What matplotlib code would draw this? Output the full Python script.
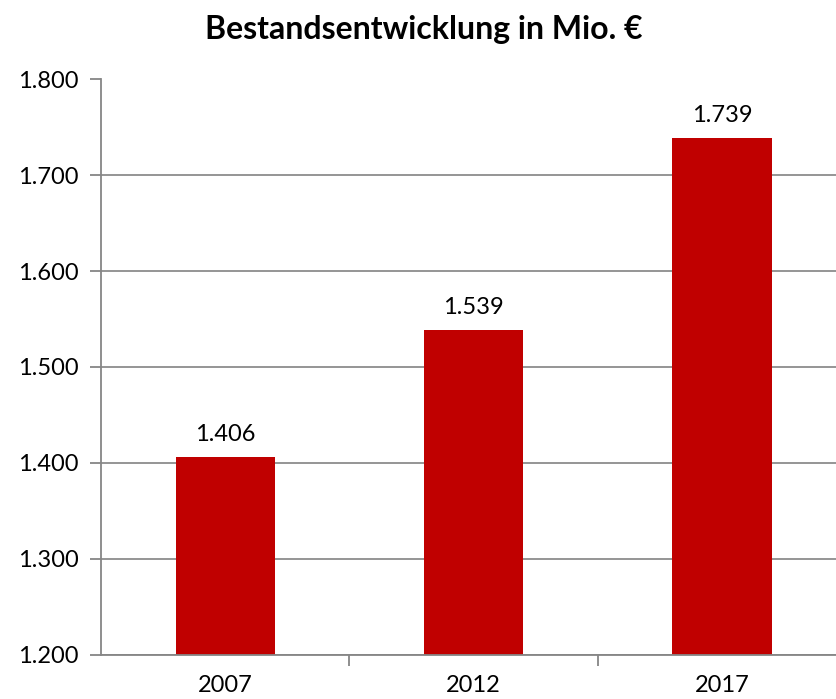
import matplotlib
matplotlib.use("Agg")
import matplotlib.pyplot as plt

years = ["2007", "2012", "2017"]
values = [1.406, 1.539, 1.739]
labels = ["1.406", "1.539", "1.739"]
yticks = [1.2, 1.3, 1.4, 1.5, 1.6, 1.7, 1.8]
yticklabels = ["1.200", "1.300", "1.400", "1.500", "1.600", "1.700", "1.800"]

plt.rcParams['font.family'] = ['Lato', 'DejaVu Sans']

W, H = 836, 699
fig = plt.figure(figsize=(W/100, H/100), dpi=100)
left, right, top, bottom = 101, 846, 79.5, 654.5
ax = fig.add_axes([left/W, 1-bottom/H, (right-left)/W, (bottom-top)/H])

x = list(range(len(years)))
ax.bar(x, values, width=0.4, bottom=0, color="#C00000", zorder=3)
ax.set_xlim(-0.5, 2.5)
ax.set_ylim(1.2, 1.8)
ax.set_yticks(yticks)
ax.set_yticklabels(yticklabels, fontsize=17)
ax.set_xticks([0.5, 1.5])
ax.set_xticklabels([])
ax.set_xticks(x, minor=True)
ax.set_xticklabels(years, minor=True, fontsize=17)
ax.tick_params(axis='x', which='minor', length=0, pad=15)
ax.tick_params(axis='x', which='major', length=8, color="#868686", width=1.3)
ax.tick_params(axis='y', length=8, color="#868686", width=1.3, pad=8)
ax.grid(axis='y', color="#8c8c8c", linewidth=1.3, zorder=0)
for s in ['top', 'right']:
    ax.spines[s].set_visible(False)
for s in ['left', 'bottom']:
    ax.spines[s].set_color("#868686")
    ax.spines[s].set_linewidth(1.3)
ax.spines['bottom'].set_zorder(4)

for xi, v, lab in zip(x, values, labels):
    ax.annotate(lab, (xi, v), xytext=(0, 12), textcoords='offset pixels',
                ha='center', va='bottom', fontsize=17)

fig.text(424/W, 1-30/H, "Bestandsentwicklung in Mio. €", ha='center', va='center',
         fontsize=23, fontweight='bold')

fig.savefig("out.png", dpi=100)
